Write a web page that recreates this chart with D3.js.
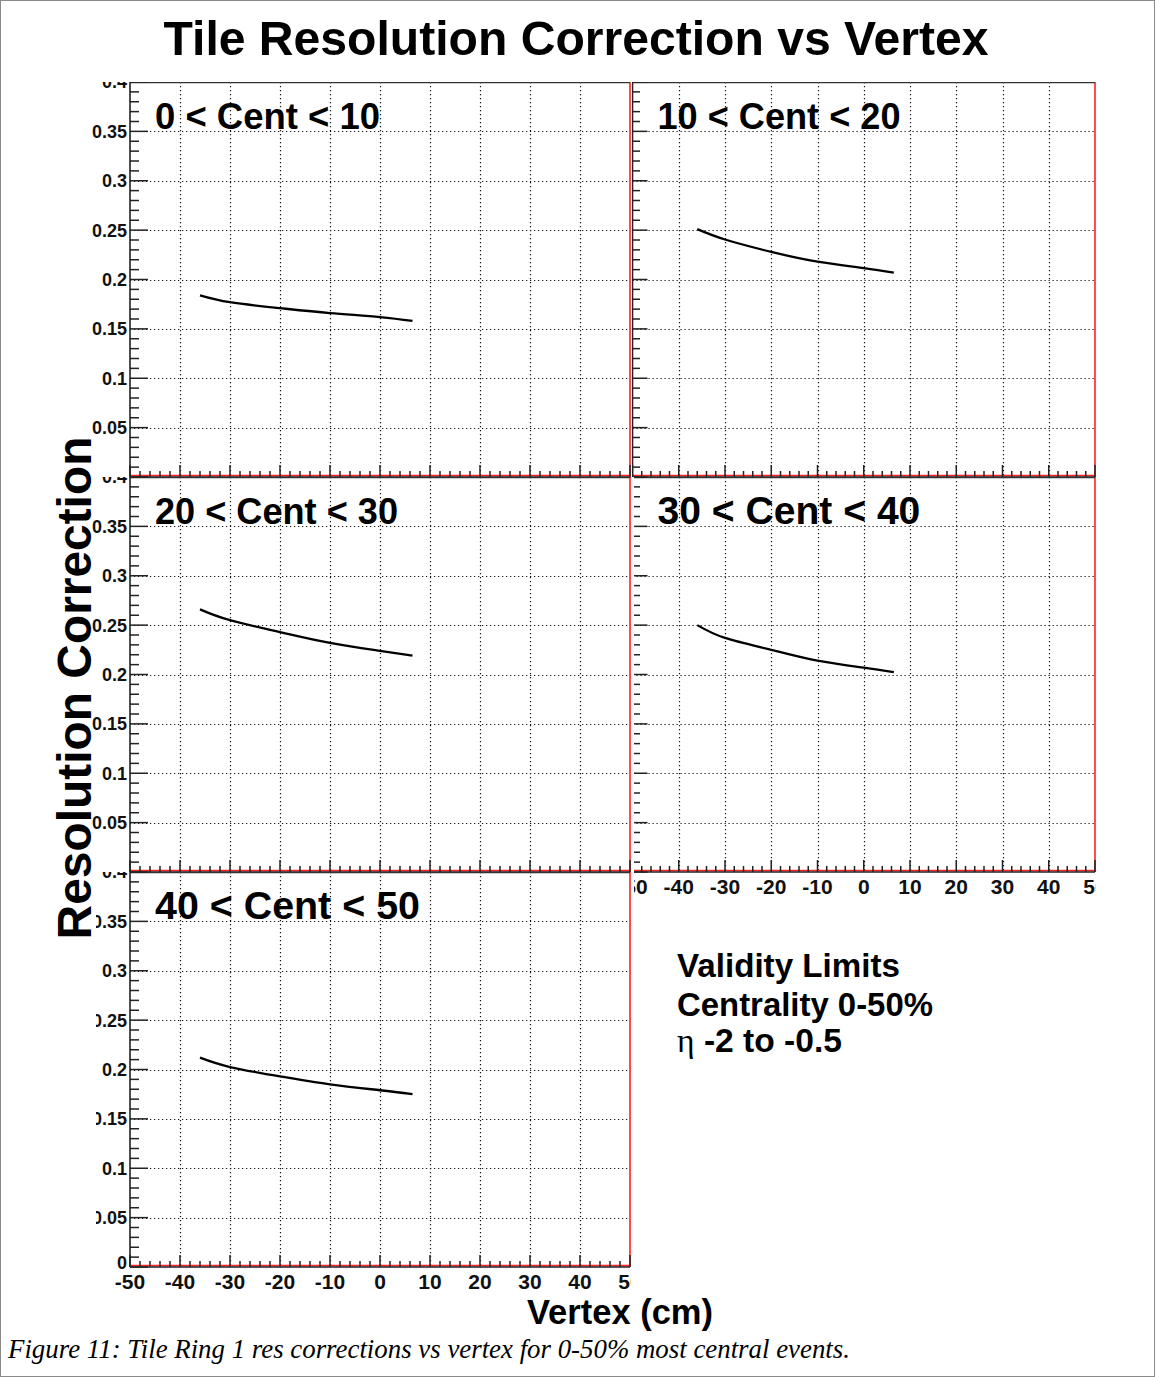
<!DOCTYPE html>
<html>
<head>
<meta charset="utf-8">
<script src="https://cdn.jsdelivr.net/npm/d3@7"></script>
<style>
body { margin:0; background:#fff; }
svg { display:block; }
</style>
</head>
<body>
<svg id="viz"></svg>
<script>

// ---------------------------
// Data
// ---------------------------

const vertex = [-36, -30, -20, -10, 0, 6.5];

const cent0to10  = [0.184, 0.177, 0.171, 0.166, 0.162, 0.158];
const cent10to20 = [0.251, 0.2405, 0.228, 0.218, 0.2115, 0.207];
const cent20to30 = [0.266, 0.255, 0.243, 0.232, 0.224, 0.219];
const cent30to40 = [0.250, 0.237, 0.225, 0.214, 0.207, 0.2025];
const cent40to50 = [0.212, 0.2025, 0.193, 0.185, 0.179, 0.175];

const panelNames = ["0 < Cent < 10", "10 < Cent < 20", "20 < Cent < 30", "30 < Cent < 40", "40 < Cent < 50"];

const xTickValues = [-50, -40, -30, -20, -10, 0, 10, 20, 30, 40, 50];
const xTickLabels = ["-50", "-40", "-30", "-20", "-10", "0", "10", "20", "30", "40", "50"];
const yTickValues = [0, 0.05, 0.1, 0.15, 0.2, 0.25, 0.3, 0.35, 0.4];
const yTickLabels = ["0", "0.05", "0.1", "0.15", "0.2", "0.25", "0.3", "0.35", "0.4"];

const legendLines = ["Validity Limits", "Centrality 0-50%", " -2 to -0.5"];

// ---------------------------
// Create SVG
// ---------------------------

const width = 1156;
const height = 1377;

const svg = d3.select("#viz")
    .attr("width", width)
    .attr("height", height)
    .attr("viewBox", `0 0 ${width} ${height}`);

const sans = "'Liberation Sans', Arial, Helvetica, sans-serif";
const serif = "'Liberation Serif', 'Times New Roman', serif";

// outer frame of the figure
svg.append("rect")
    .attr("x", 0.5).attr("y", 0.5)
    .attr("width", width - 2).attr("height", height - 1)
    .attr("fill", "none")
    .attr("stroke", "#8a8a8a");

// fit a text to a measured width
function fitWidth(sel, w){
    const len = sel.node().getComputedTextLength();
    const fs = parseFloat(sel.attr("font-size"));
    sel.attr("font-size", (fs * w / len).toFixed(2));
    return sel;
}

// ---------------------------
// Layout
// ---------------------------

const cols = [
    {x0:130, x1:630},
    {x0:632.5, x1:1095}
];
const rowTops = [82, 477, 872];
const rowH = 395;

const panels = [
    {name:panelNames[0], values:cent0to10,  col:0, row:0, labelW:225, clip:[85, 82, 631, 477],  xLabels:false, yLabels:true},
    {name:panelNames[1], values:cent10to20, col:1, row:0, labelW:243, clip:[632, 82, 1096, 477], xLabels:false, yLabels:false},
    {name:panelNames[2], values:cent20to30, col:0, row:1, labelW:243, clip:[85, 477, 631, 872], xLabels:false, yLabels:true},
    {name:panelNames[3], values:cent30to40, col:1, row:1, labelW:263, clip:[634, 477, 1096, 905], xLabels:true, yLabels:false},
    {name:panelNames[4], values:cent40to50, col:0, row:2, labelW:265, clip:[96, 872, 631, 1300], xLabels:true, yLabels:true}
];

const defs = svg.append("defs");

// ---------------------------
// Panels
// ---------------------------

panels.forEach((p, i) => {

    const c = cols[p.col];
    const top = rowTops[p.row];
    const bottom = top + rowH;

    const x = d3.scaleLinear().domain([-50, 50]).range([c.x0, c.x1]);
    const y = d3.scaleLinear().domain([0, 0.4]).range([bottom, top]);

    defs.append("clipPath").attr("id", "pad" + i)
        .append("rect")
        .attr("x", p.clip[0]).attr("y", p.clip[1])
        .attr("width", p.clip[2] - p.clip[0])
        .attr("height", p.clip[3] - p.clip[1]);

    const g = svg.append("g").attr("clip-path", `url(#pad${i})`);

    // grid
    g.append("g").selectAll("line")
        .data(xTickValues.slice(1, -1))
        .join("line")
        .attr("x1", d => Math.round(x(d)) + 0.5)
        .attr("x2", d => Math.round(x(d)) + 0.5)
        .attr("y1", top).attr("y2", bottom)
        .attr("stroke", "#111")
        .attr("stroke-width", 1.2)
        .attr("stroke-dasharray", "1.2,2.8");

    g.append("g").selectAll("line")
        .data(yTickValues.slice(1, -1))
        .join("line")
        .attr("x1", c.x0).attr("x2", c.x1)
        .attr("y1", d => Math.round(y(d)) + 0.5)
        .attr("y2", d => Math.round(y(d)) + 0.5)
        .attr("stroke", "#111")
        .attr("stroke-width", 1.2)
        .attr("stroke-dasharray", "1.2,2.8");

    // frame: red on right and bottom, black axes
    g.append("line")
        .attr("x1", c.x1).attr("x2", c.x1)
        .attr("y1", top).attr("y2", bottom)
        .attr("stroke", "#ff2020").attr("stroke-width", 1.6);

    g.append("line")
        .attr("x1", c.x0).attr("x2", c.x1)
        .attr("y1", bottom - 1.5).attr("y2", bottom - 1.5)
        .attr("stroke", "#ff2020").attr("stroke-width", 1.6);

    g.append("line")
        .attr("x1", c.x0).attr("x2", c.x1)
        .attr("y1", top + 0.5).attr("y2", top + 0.5)
        .attr("stroke", "#333").attr("stroke-width", 1.6);

    g.append("line")
        .attr("x1", c.x0).attr("x2", c.x0)
        .attr("y1", top).attr("y2", bottom)
        .attr("stroke", "#222").attr("stroke-width", 1.6);

    g.append("line")
        .attr("x1", c.x0).attr("x2", c.x1)
        .attr("y1", bottom).attr("y2", bottom)
        .attr("stroke", "#222").attr("stroke-width", 1.6);

    // x ticks (inside, pointing up)
    const xMinor = d3.range(-50, 50.01, 2);
    g.append("g").selectAll("line")
        .data(xMinor)
        .join("line")
        .attr("x1", d => x(d)).attr("x2", d => x(d))
        .attr("y1", bottom)
        .attr("y2", d => bottom - (d % 10 === 0 ? 12 : 6))
        .attr("stroke", "#222").attr("stroke-width", 1.5);

    // y ticks (inside, pointing right)
    const yMinor = d3.range(0, 41).map(k => k / 100);
    const tickMaj = p.col === 0 ? 18 : 15;
    g.append("g").selectAll("line")
        .data(yMinor)
        .join("line")
        .attr("x1", c.x0)
        .attr("x2", (d, k) => c.x0 + (k % 5 === 0 ? tickMaj : tickMaj / 2))
        .attr("y1", d => y(d)).attr("y2", d => y(d))
        .attr("stroke", "#222").attr("stroke-width", 1.5);

    // tick labels
    if(p.yLabels){
        const idx = d3.range(yTickValues.length).filter(k => k > 0 || p.row === 2);
        g.append("g").selectAll("text")
            .data(idx)
            .join("text")
            .attr("x", c.x0 - 3)
            .attr("y", k => y(yTickValues[k]) - (k === 0 ? 4 : 0))
            .attr("dy", "0.36em")
            .attr("text-anchor", "end")
            .attr("font-family", sans)
            .attr("font-weight", "bold")
            .attr("font-size", 18)
            .attr("fill", "#111")
            .text(k => yTickLabels[k]);
    }

    if(p.xLabels){
        g.append("g").selectAll("text")
            .data(d3.range(xTickValues.length))
            .join("text")
            .attr("x", k => x(xTickValues[k]))
            .attr("y", bottom + 22)
            .attr("text-anchor", "middle")
            .attr("font-family", sans)
            .attr("font-weight", "bold")
            .attr("font-size", 21)
            .attr("fill", "#111")
            .text(k => xTickLabels[k]);
    }

    // the curve
    const line = d3.line()
        .x((d, k) => x(vertex[k]))
        .y(d => y(d))
        .curve(d3.curveNatural);

    g.append("path")
        .datum(p.values)
        .attr("d", line)
        .attr("fill", "none")
        .attr("stroke", "#000")
        .attr("stroke-width", 2.3);

    // panel label
    const lbl = g.append("text")
        .attr("x", c.x0 + 25)
        .attr("y", top + 47)
        .attr("font-family", sans)
        .attr("font-weight", "bold")
        .attr("font-size", 36)
        .attr("fill", "#000")
        .text(p.name);
    fitWidth(lbl, p.labelW);

});

// ---------------------------
// Titles and texts
// ---------------------------

const title = svg.append("text")
    .attr("x", 576)
    .attr("y", 55)
    .attr("text-anchor", "middle")
    .attr("font-family", sans)
    .attr("font-weight", "bold")
    .attr("font-size", 48)
    .text("Tile Resolution Correction vs Vertex");
fitWidth(title, 825);

const xTitle = svg.append("text")
    .attr("x", 527)
    .attr("y", 1324)
    .attr("font-family", sans)
    .attr("font-weight", "bold")
    .attr("font-size", 34)
    .text("Vertex (cm)");
fitWidth(xTitle, 186);

const yTitle = svg.append("text")
    .attr("transform", "translate(91,688) rotate(-90)")
    .attr("text-anchor", "middle")
    .attr("font-family", sans)
    .attr("font-weight", "bold")
    .attr("font-size", 48)
    .text("Resolution Correction");
fitWidth(yTitle, 503);

// validity box
const legendY = [977, 1016, 1052];
const legendW = [223, 256, 165];

legendLines.forEach((s, k) => {
    const t = svg.append("text")
        .attr("x", 677)
        .attr("y", legendY[k])
        .attr("font-family", sans)
        .attr("font-weight", "bold")
        .attr("font-size", 31);
    if(k === 2){
        t.append("tspan")
            .attr("font-family", serif)
            .attr("font-weight", "normal")
            .text("\u03b7");
        t.append("tspan").text(s);
    } else {
        t.text(s);
    }
    fitWidth(t, legendW[k]);
});

// caption
const caption = svg.append("text")
    .attr("x", 8)
    .attr("y", 1358)
    .attr("font-family", serif)
    .attr("font-style", "italic")
    .attr("font-size", 24)
    .text("Figure 11: Tile Ring 1 res corrections vs vertex for 0-50% most central events.");
fitWidth(caption, 842);

</script>
</body>
</html>
